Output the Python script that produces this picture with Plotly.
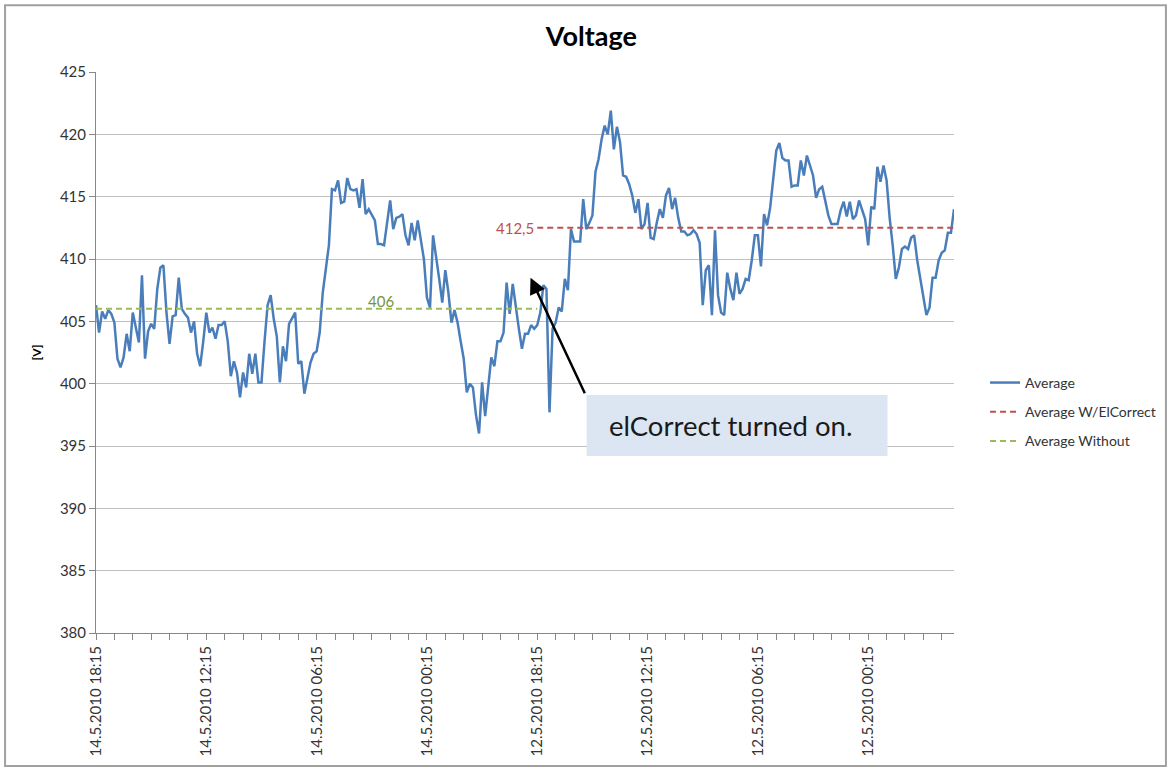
"""Voltage chart: average voltage with the two reference averages."""

import plotly.graph_objects as go

# Average voltage, one value every 10 minutes
AVERAGE = [
    406.3, 404.1, 405.8, 405.2, 405.9, 405.6, 404.9, 402.0, 401.3, 402.1,
    404.0, 402.6, 405.7, 404.4, 403.3, 408.7, 402.0, 404.2, 404.8, 404.4,
    407.6, 409.3, 409.5, 405.7, 403.2, 405.4, 405.5, 408.5, 406.0, 405.6,
    405.3, 404.1, 405.0, 402.4, 401.4, 403.4, 405.7, 404.1, 404.5, 403.6,
    404.7, 404.7, 405.0, 403.4, 400.6, 401.8, 400.9, 398.9, 400.9, 399.7,
    402.4, 400.8, 402.4, 400.1, 400.1, 403.4, 406.3, 407.1, 405.2, 403.8,
    400.1, 403.0, 401.8, 404.8, 405.2, 405.7, 401.6, 401.8, 399.2,
    400.4, 401.7, 402.4, 402.6, 404.1, 407.3, 409.2, 411.1, 415.6, 415.5,
    416.3, 414.5, 414.6, 416.5, 415.6, 415.5, 415.6, 414.1, 416.4, 413.6,
    414.0, 413.6, 413.1, 411.2, 411.2, 411.1, 413.0, 414.7, 412.4, 413.3,
    413.4, 413.6, 411.9, 411.1, 412.9, 411.5, 413.1, 411.5, 410.0, 406.9,
    406.1, 411.9, 410.3, 408.4, 406.5, 409.1, 407.3, 404.9, 405.9, 404.9,
    403.4, 402.0, 399.3, 400.0, 399.7, 397.5, 396.0, 400.1, 397.4, 399.8,
    402.1, 401.4, 403.4, 403.4, 404.1, 408.1, 405.6, 408.0, 406.0, 404.4,
    402.8, 404.0,
    404.0, 404.7, 404.4, 404.7, 405.7, 407.9, 407.6, 397.7, 404.4, 404.9,
    406.1, 405.8, 408.4, 407.5, 412.4, 411.4, 411.4, 411.4, 414.8, 412.4,
    412.9, 413.5, 417.0, 418.0, 419.6, 420.7, 420.0, 421.9, 418.8, 420.6,
    419.4, 416.7, 416.6, 416.0, 415.1, 413.7, 414.8, 412.4, 412.8, 414.5,
    411.7, 411.6, 412.9, 414.0, 413.3, 415.1, 415.7, 414.0, 414.9, 413.3,
    412.2, 412.2, 411.9, 412.0, 412.3, 412.0, 411.3,
    406.3, 409.1, 409.5, 405.5, 412.3, 407.1, 405.7, 405.5, 408.9, 407.6,
    406.7,
    408.9, 407.2, 407.6, 408.4, 408.3, 409.9, 411.9, 411.9, 409.4, 413.6,
    412.7, 414.1, 416.4, 418.7, 419.3, 418.1, 417.9, 417.9, 415.8, 415.9,
    415.9, 417.9, 416.7, 418.3, 417.5, 416.7, 414.9, 415.6, 415.8, 414.5,
    413.5, 412.8, 412.8, 412.8, 413.9, 414.6, 413.4, 414.6, 413.2, 413.5,
    414.7, 413.9, 413.2, 411.1, 414.2, 414.0, 417.4, 416.2, 417.5, 416.3,
    413.3, 411.1, 408.4, 409.3, 410.8, 411.0, 410.8, 411.7, 411.9, 409.9,
    408.4, 406.8, 405.5, 406.1, 408.5, 408.5, 409.9, 410.5, 410.7, 412.1,
    412.1, 414.0,
]

TICK_LABELS = [
    '14.5.2010 18:15', '14.5.2010 12:15', '14.5.2010 06:15', '14.5.2010 00:15',
    '12.5.2010 18:15', '12.5.2010 12:15', '12.5.2010 06:15', '12.5.2010 00:15',
]
LABEL_STEP = 36   # one label every 6 hours
TICK_STEP = 6     # one tick every hour

SWITCH_INDEX = 144          # point where elCorrect was turned on
AVG_WITHOUT = 406
AVG_WITH = 412.5

FONT = 'Lato, Noto Sans, sans-serif'
TEXT_COLOR = '#333333'
GRID_COLOR = '#c0c0c0'
AXIS_COLOR = '#888888'

x_values = list(range(len(AVERAGE)))
last_index = len(AVERAGE) - 1

fig = go.Figure()
fig.add_trace(go.Scatter(
    x=x_values,
    y=AVERAGE,
    mode='lines',
    name='Average',
    legendgroup='a',
    line={'color': '#4a7ebb', 'width': 2.5},
))
fig.add_trace(go.Scatter(
    x=[SWITCH_INDEX, last_index],
    y=[AVG_WITH, AVG_WITH],
    mode='lines',
    name='Average W/ElCorrect',
    legendgroup='b',
    line={'color': '#c0504d', 'width': 2, 'dash': '6px,4px'},
))
fig.add_trace(go.Scatter(
    x=[0, SWITCH_INDEX],
    y=[AVG_WITHOUT, AVG_WITHOUT],
    mode='lines',
    name='Average Without',
    legendgroup='c',
    line={'color': '#9bbb59', 'width': 2, 'dash': '6px,4px'},
))

# data labels of the two averages
fig.add_annotation(
    x=93, y=AVG_WITHOUT, text=str(AVG_WITHOUT), showarrow=False,
    yanchor='middle', yshift=8,
    font={'family': FONT, 'size': 15, 'color': '#77933c'},
)
fig.add_annotation(
    x=SWITCH_INDEX, y=AVG_WITH, text=str(AVG_WITH).replace('.', ','), showarrow=False,
    xanchor='right', xshift=-1,
    font={'family': FONT, 'size': 15, 'color': '#c0504d'},
)

# callout: arrow, box and text
fig.add_annotation(
    x=141.8, y=408.5, text='', showarrow=True,
    ax=55, ay=117, arrowhead=2, arrowsize=1.3, arrowwidth=2.5, arrowcolor='#000000',
)
fig.add_shape(
    type='rect', xref='x', yref='y',
    x0=160.1, x1=258.3, y0=394.2, y1=399.1,
    fillcolor='#dce6f2', line={'width': 0}, layer='above',
)
fig.add_annotation(
    x=166.6, y=396.65, xanchor='left', yanchor='middle',
    text='elCorrect turned on.', showarrow=False,
    font={'family': FONT, 'size': 27.5, 'color': '#1a1a1a'},
)

# outer chart border
fig.add_shape(
    type='rect', xref='paper', yref='paper',
    x0=-0.106, x1=1.247, y0=-0.237, y1=1.119,
    line={'color': '#a0a0a0', 'width': 2},
)

fig.update_layout(
    width=1171,
    height=770,
    margin={'l': 96, 'r': 217, 't': 72, 'b': 137},
    plot_bgcolor='#ffffff',
    paper_bgcolor='#ffffff',
    font={'family': FONT, 'size': 14, 'color': TEXT_COLOR},
    title={
        'text': '<b>Voltage</b>',
        'xref': 'container', 'x': 0.505, 'xanchor': 'center',
        'yref': 'container', 'y': 0.952, 'yanchor': 'middle',
        'font': {'family': FONT, 'size': 27, 'color': '#000000'},
    },
    showlegend=True,
    legend={
        'xref': 'container', 'x': 0.8412, 'xanchor': 'left',
        'yref': 'container', 'y': 0.465, 'yanchor': 'middle',
        'tracegroupgap': 8,
        'font': {'family': FONT, 'size': 14, 'color': TEXT_COLOR},
        'bgcolor': 'rgba(0,0,0,0)',
    },
    xaxis={
        'range': [0, last_index],
        'tickmode': 'array',
        'tickvals': x_values[::LABEL_STEP][:len(TICK_LABELS)],
        'ticktext': TICK_LABELS,
        'tickangle': -90,
        'ticks': 'outside', 'ticklen': 6, 'tickcolor': AXIS_COLOR,
        'minor': {'dtick': TICK_STEP, 'tick0': 0, 'ticks': 'outside',
                  'ticklen': 6, 'tickcolor': AXIS_COLOR, 'showgrid': False},
        'showgrid': False, 'zeroline': False,
        'showline': True, 'linecolor': AXIS_COLOR, 'linewidth': 1,
        'tickfont': {'family': FONT, 'size': 15, 'color': TEXT_COLOR},
    },
    yaxis={
        'range': [380, 425],
        'dtick': 5,
        'ticks': 'outside', 'ticklen': 6, 'tickcolor': AXIS_COLOR,
        'showgrid': True, 'gridcolor': GRID_COLOR, 'gridwidth': 1,
        'zeroline': False,
        'showline': True, 'linecolor': AXIS_COLOR, 'linewidth': 1,
        'title': {'text': '<b>[V]</b>', 'standoff': 15,
                  'font': {'family': FONT, 'size': 12, 'color': '#000000'}},
        'tickfont': {'family': FONT, 'size': 15, 'color': TEXT_COLOR},
    },
)

fig.write_html(
    'out.html',
    config={'displayModeBar': False},
    post_script="document.body.style.margin = '0';",
)
